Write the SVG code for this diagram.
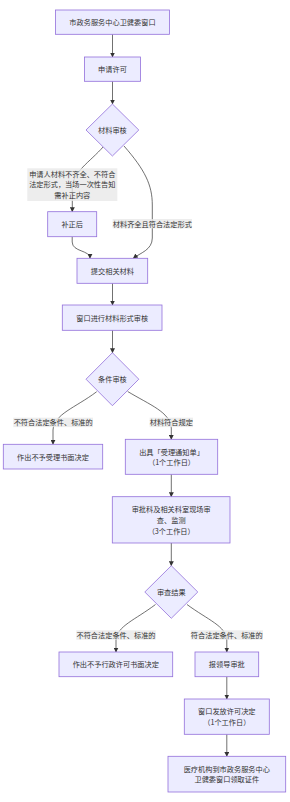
<svg xmlns="http://www.w3.org/2000/svg" width="290" height="802" viewBox="0 0 290 802">
<defs>
<style>
.n rect,.n polygon{fill:#ECECFF;stroke:#9370DB;stroke-width:0.8}
text{font-family:"Noto Sans CJK SC","Liberation Sans",sans-serif;font-size:7.2px;fill:#333;text-anchor:middle;dominant-baseline:central}
.e path{fill:none;stroke:#333;stroke-width:0.7}
.lb{fill:#e8e8e8;fill-opacity:0.8}
</style>
<marker id="ah" viewBox="0 0 10 10" refX="9" refY="5" markerWidth="5" markerHeight="5" markerUnits="userSpaceOnUse" orient="auto">
<path d="M0,0 L10,5 L0,10 z" fill="#333"/>
</marker>
</defs>
<g id="connectors" class="e">
<path d="M112.5,34.3 L112.5,57" marker-end="url(#ah)"/>
<path d="M112.5,81.3 L112.5,104" marker-end="url(#ah)"/>
<path d="M103.5,146.5 C90,162 72.3,172 72.3,188 L72.3,211.7" marker-end="url(#ah)"/>
<path d="M124,146 C145,170 152.3,185 152.3,205 L152.3,238 C152.3,250 140,253 133.3,258.3" marker-end="url(#ah)"/>
<path d="M72.2,236.7 L72.2,242 C72.2,252 90,250 90,258.3" marker-end="url(#ah)"/>
<path d="M112.5,283.3 L112.5,305" marker-end="url(#ah)"/>
<path d="M112.5,330.3 L112.5,352.7" marker-end="url(#ah)"/>
<path d="M96.7,391.7 C75,408 54,414 53,430 L53,444.3" marker-end="url(#ah)"/>
<path d="M127.7,391.5 C150,405 170,412 171.3,428 L171.3,439.3" marker-end="url(#ah)"/>
<path d="M171.3,474.3 L171.3,496.7" marker-end="url(#ah)"/>
<path d="M171.3,543 L171.3,565.7" marker-end="url(#ah)"/>
<path d="M155.5,604.5 C135,620 117,626 116,640 L116,652" marker-end="url(#ah)"/>
<path d="M187,604.5 C208,620 226,626 226.8,640 L226.8,652" marker-end="url(#ah)"/>
<path d="M226.8,676.7 L226.8,699" marker-end="url(#ah)"/>
<path d="M226.8,734.3 L226.8,756.3" marker-end="url(#ah)"/>
</g>
<g id="edge-labels">
<rect class="lb" x="27.3" y="168.3" width="90" height="32.7"/>
<text x="72.3" y="173.5">申请人材料不齐全、不符合</text>
<text x="72.3" y="184.3">法定形式，当场一次性告知</text>
<text x="72.3" y="195.1">需补正内容</text>
<rect class="lb" x="112.7" y="219" width="79.3" height="9.4"/>
<text x="152.3" y="223.7">材料齐全且符合法定形式</text>
<rect class="lb" x="13.3" y="417.7" width="79.7" height="9.4"/>
<text x="53.2" y="422.4">不符合法定条件、标准的</text>
<rect class="lb" x="149.7" y="417.7" width="43.3" height="9.4"/>
<text x="171.3" y="422.4">材料符合规定</text>
<rect class="lb" x="76.3" y="630.3" width="79.4" height="9.4"/>
<text x="116" y="635">不符合法定条件、标准的</text>
<rect class="lb" x="190.7" y="630.3" width="72.3" height="9.4"/>
<text x="226.8" y="635">符合法定条件、标准的</text>
</g>
<g id="n1" class="n"><rect x="55.5" y="10" width="114" height="24.3"/><text x="112.5" y="22.2">市政务服务中心卫健委窗口</text></g>
<g id="n2" class="n"><rect x="84.5" y="57" width="56" height="24.3"/><text x="112.5" y="69.2">申请许可</text></g>
<g id="n3" class="n"><polygon points="112.4,104 138.8,130 112.4,156 86,130"/><text x="112.4" y="130">材料审核</text></g>
<g id="n4" class="n"><rect x="47.7" y="211.7" width="49" height="25"/><text x="72.2" y="224.2">补正后</text></g>
<g id="n5" class="n"><rect x="77" y="258.3" width="70.7" height="25"/><text x="112.4" y="270.8">提交相关材料</text></g>
<g id="n6" class="n"><rect x="62.3" y="305" width="99.7" height="25.3"/><text x="112.2" y="317.7">窗口进行材料形式审核</text></g>
<g id="n7" class="n"><polygon points="112.4,352.7 138.8,379.2 112.4,405.7 86,379.2"/><text x="112.4" y="379.2">条件审核</text></g>
<g id="n8" class="n"><rect x="3.3" y="444.3" width="99.4" height="24.7"/><text x="53" y="456.7">作出不予受理书面决定</text></g>
<g id="n9" class="n"><rect x="125.3" y="439.3" width="92.4" height="35"/><text x="171.5" y="451.5">出具「受理通知单」</text><text x="171.5" y="462">（1个工作日）</text></g>
<g id="n10" class="n"><rect x="112.3" y="496.7" width="117.7" height="46.3"/><text x="171.2" y="509.3">审批科及相关科室现场审</text><text x="171.2" y="519.9">查、监测</text><text x="171.2" y="530.5">（3个工作日）</text></g>
<g id="n11" class="n"><polygon points="171.3,565.7 197.8,592 171.3,618.3 144.8,592"/><text x="171.3" y="592">审查结果</text></g>
<g id="n12" class="n"><rect x="59" y="652" width="113.7" height="24.7"/><text x="115.8" y="664.4">作出不予行政许可书面决定</text></g>
<g id="n13" class="n"><rect x="195" y="652" width="63.7" height="24.7"/><text x="226.8" y="664.4">报领导审批</text></g>
<g id="n14" class="n"><rect x="184.3" y="699" width="85" height="35.3"/><text x="226.8" y="711.4">窗口发放许可决定</text><text x="226.8" y="722">（1个工作日）</text></g>
<g id="n15" class="n"><rect x="168" y="756.3" width="117.7" height="35.7"/><text x="226.8" y="768.8">医疗机构到市政务服务中心</text><text x="226.8" y="779.4">卫健委窗口领取证件</text></g>
</svg>
